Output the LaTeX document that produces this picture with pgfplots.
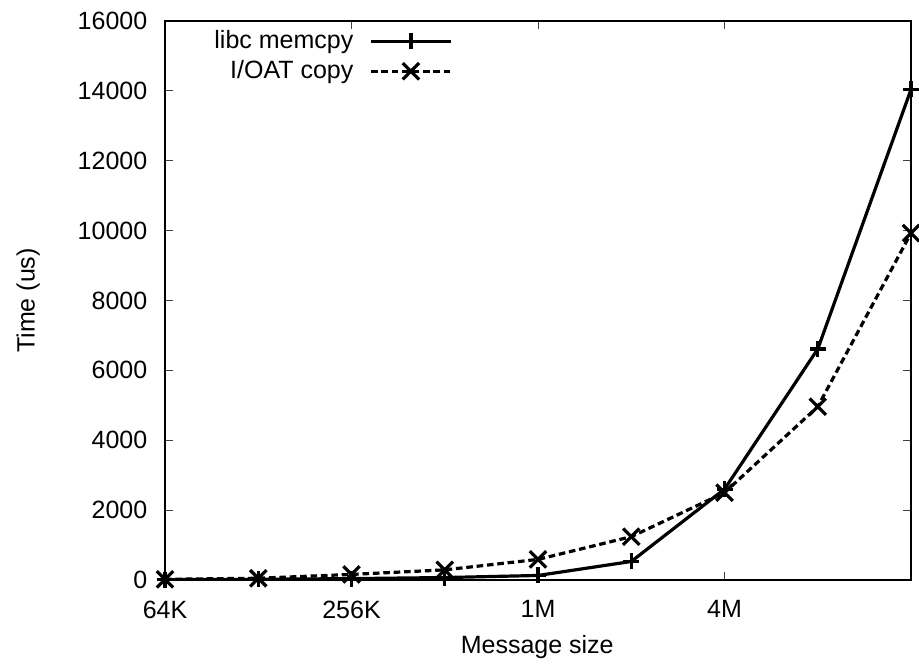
\documentclass[border=0pt]{standalone}
\usepackage{fontspec}
\setmainfont{Liberation Sans}
\usepackage{pgfplots}
\pgfplotsset{compat=1.18}
\begin{document}
\fontsize{12.5}{15}\selectfont
\begin{tikzpicture}
\begin{axis}[
  scale only axis,
  width=373pt, height=279.5pt,
  xmin=0, xmax=8, ymin=0, ymax=16000,
  xtick={0,2,4,6}, xticklabels={64K,256K,1M,4M},
  ytick={0,2000,...,16000},
  scaled y ticks=false,
  /pgf/number format/1000 sep={},
  /pgf/number format/assume math mode=true,
  tick align=inside,
  major tick length=4pt,
  tick style={line width=0.5pt, color=black!75},
  axis line style={line width=0.6pt},
  xlabel={Message size}, ylabel={Time (us)},
  every axis x label/.style={at={(axis description cs:0.499,-0.1199)}, anchor=center},
  every axis y label/.style={at={(axis description cs:-0.1836,0.5)}, rotate=90, anchor=center},
  yticklabel style={xshift=-4.5pt},
  xticklabel style={yshift=-6pt},
  legend plot pos=right,
  legend cell align=right,
  legend style={draw=none, fill=none, inner sep=0pt, at={(0.386,0.991)}, anchor=north east,
    nodes={inner sep=2pt}, row sep=0pt, column sep=6pt},
  legend image code/.code={\draw[mark repeat=2,mark phase=2,#1] plot coordinates {(0pt,0pt) (20pt,0pt) (40pt,0pt)};},
]
\addplot[black, line width=1.6pt, mark=+, mark size=4pt, mark options={solid, line width=1.6pt}]
  coordinates {(0,10) (1,20) (2,40) (3,70) (4,130) (5,530) (6,2600) (7,6610) (8,14040)};
\addlegendentry{libc memcpy}
\addplot[black, line width=1.6pt, dash pattern=on 3.3pt off 1.9pt, mark=x, mark size=5.8pt, mark options={solid, line width=1.6pt}]
  coordinates {(0,20) (1,50) (2,160) (3,290) (4,590) (5,1240) (6,2500) (7,4960) (8,9930)};
\addlegendentry{I/OAT copy}
\end{axis}
\pgfresetboundingbox
\useasboundingbox (-82.5pt,-42.5pt) rectangle (377pt,290pt);
\end{tikzpicture}
\end{document}
